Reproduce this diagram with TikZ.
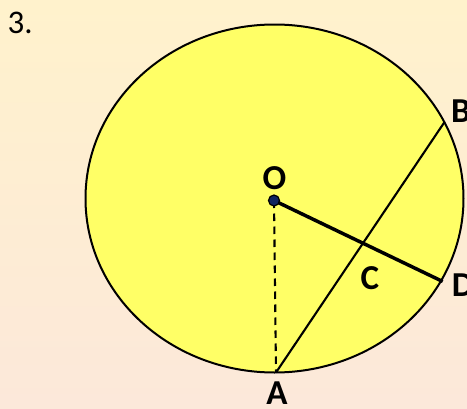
\documentclass[tikz,border=0pt]{standalone}
\usepackage{fontspec}
\setmainfont{Carlito}
\usetikzlibrary{positioning}
\definecolor{mybgtop}{RGB}{255,242,204}
\definecolor{mybgbot}{RGB}{252,232,218}
\definecolor{myyellow}{RGB}{255,255,102}
\definecolor{mynavy}{RGB}{16,37,96}

\begin{document}
\begin{tikzpicture}[x=1pt,y=-1pt,lbl/.style={font=\fontsize{35}{42}\selectfont\bfseries,inner sep=0pt}]
\shade[top color=mybgtop,bottom color=mybgbot] (0,0) rectangle (467,408);
\useasboundingbox (0,0) rectangle (467,408);
\node[font=\fontsize{33}{40}\selectfont,anchor=base west,inner sep=0pt] (num) at (7.5,33.3) {3.};
\draw[fill=myyellow,line width=2pt] (274.5,198.5) ellipse [x radius=189,y radius=174];
\coordinate (A) at (276,372.5);
\coordinate (B) at (444.4,122.2);
\coordinate (D) at (442.7,281.5);
\coordinate (O) at (274,200.5);
\draw[line width=2.1pt] (A) -- (B);
\draw[line width=2.1pt,dash pattern=on 7.5pt off 5.5pt] (O) -- (A);
\draw[line width=3.5pt] (O) -- (D);
\node[circle,draw,fill=mynavy,inner sep=0pt,minimum size=11pt,line width=1.2pt] (dot) at (O) {};
\node[lbl] (Olbl) at (274.5,178.3) {O};
\node[lbl] (Albl) at (277,393) {A};
\node[lbl] (Blbl) at (461,111) {B};
\node[lbl] (Clbl) at (370,278) {C};
\node[lbl] (Dlbl) at (463,285.5) {D};
\end{tikzpicture}
\end{document}
